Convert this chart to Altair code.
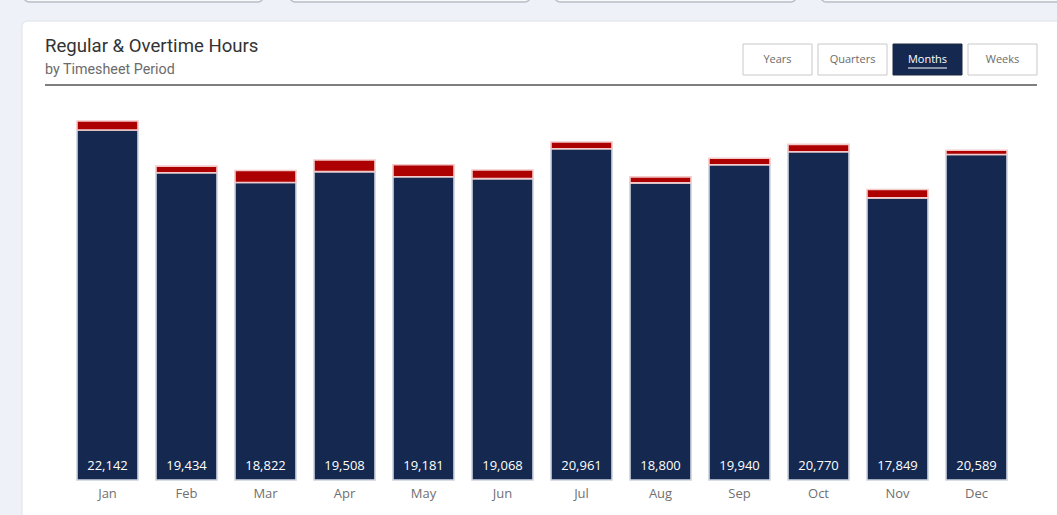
import altair as alt
import pandas as pd

# ---- data ----
months = ["Jan", "Feb", "Mar", "Apr", "May", "Jun", "Jul", "Aug", "Sep", "Oct", "Nov", "Dec"]
regular = [22142, 19434, 18822, 19508, 19181, 19068, 20961, 18800, 19940, 20770, 17849, 20589]
overtime = [570, 420, 760, 735, 760, 545, 420, 380, 420, 460, 525, 270]
types = ["Regular", "Overtime"]
buttons = ["Years", "Quarters", "Months", "Weeks"]

rows = []
for m, r, o in zip(months, regular, overtime):
    rows.append({"Month": m, "Type": "Regular", "Hours": r, "Order": 0})
    rows.append({"Month": m, "Type": "Overtime", "Hours": o, "Order": 1})
df = pd.DataFrame(rows)
lab = pd.DataFrame({"Month": months, "Regular": regular, "Base": [0] * len(months)})
lab["Label"] = [f"{v:,}" for v in regular]
one = pd.DataFrame({"k": [0]})

NAVY = "#142850"
RED = "#ad0000"
FONT = "Open Sans"

x_scale = alt.Scale(domain=months, range=[68, 1016], paddingInner=0.228, paddingOuter=0.114)
y_scale = alt.Scale(domain=[0, 30000], range=[480, 5.8], nice=False)

layers = []

# card
layers.append(alt.Chart(one).mark_rect(fill="white", stroke="#dde2ea", strokeWidth=1, cornerRadius=6).encode(
    x=alt.value(22), x2=alt.value(1090), y=alt.value(21), y2=alt.value(560)))
# top strip cards
for x0, x1 in [(24, 263), (290, 530), (555, 796), (821, 1100)]:
    layers.append(alt.Chart(one).mark_rect(fill="#f7f8fa", stroke="#b9bec6", strokeWidth=1.5, cornerRadius=5).encode(
        x=alt.value(x0), x2=alt.value(x1), y=alt.value(-20), y2=alt.value(2)))

# title & subtitle
layers.append(alt.Chart(one).mark_text(text="Regular & Overtime Hours", align="left", baseline="middle",
                                       font="Roboto", fontSize=18.6, color="#333333").encode(
    x=alt.value(45), y=alt.value(46)))
layers.append(alt.Chart(one).mark_text(text="by Timesheet Period", align="left", baseline="middle",
                                       font="Roboto", fontSize=14.3, color="#6b6b6b").encode(
    x=alt.value(45), y=alt.value(70)))
layers.append(alt.Chart(one).mark_rule(color="#7f7f7f", strokeWidth=2).encode(
    x=alt.value(45), x2=alt.value(1037), y=alt.value(85)))

# buttons
bx = [743, 818, 893, 968]
for name, x0 in zip(buttons, bx):
    active = name == "Months"
    layers.append(alt.Chart(one).mark_rect(fill=NAVY if active else "white",
                                           stroke="#1d2a3f" if active else "#c9c9c9", strokeWidth=1).encode(
        x=alt.value(x0), x2=alt.value(x0 + 69), y=alt.value(44), y2=alt.value(75)))
    layers.append(alt.Chart(one).mark_text(text=name, align="center", baseline="middle", font=FONT,
                                           fontSize=11, color="white" if active else "#6b6b6b").encode(
        x=alt.value(x0 + 34.5), y=alt.value(60)))
    if active:
        layers.append(alt.Chart(one).mark_rule(color="white", strokeWidth=1).encode(
            x=alt.value(x0 + 15), x2=alt.value(x0 + 54), y=alt.value(68)))

# bars
bars = alt.Chart(df).mark_bar(strokeWidth=1.6).encode(
    x=alt.X("Month:N", scale=x_scale, axis=None, sort=None),
    y=alt.Y("Hours:Q", scale=y_scale, axis=None, stack="zero"),
    color=alt.Color("Type:N", scale=alt.Scale(domain=types, range=[NAVY, RED]), legend=None),
    stroke=alt.Stroke("Type:N", scale=alt.Scale(domain=types, range=["#cdd3de", "#f3c9c9"]), legend=None),
    order=alt.Order("Order:Q"),
)
layers.append(bars)

values = alt.Chart(lab).mark_text(baseline="middle", align="center", font=FONT, fontSize=13,
                                  fontWeight="normal", color="white", dy=-14).encode(
    x=alt.X("Month:N", scale=x_scale, axis=None, sort=None),
    y=alt.Y("Base:Q", scale=y_scale, axis=None),
    text="Label:N",
)
layers.append(values)

mlabels = alt.Chart(lab).mark_text(baseline="middle", align="center", font=FONT, fontSize=13,
                                   color="#707070", dy=14).encode(
    x=alt.X("Month:N", scale=x_scale, axis=None, sort=None),
    y=alt.Y("Base:Q", scale=y_scale, axis=None),
    text="Month:N",
)
layers.append(mlabels)

chart = alt.layer(*layers).properties(
    width=1057, height=515, padding=0, autosize=alt.AutoSizeParams(type="none"),
    background="#eef2f8",
).configure_view(stroke=None)

chart.save("out.html", embed_options={"renderer": "svg", "actions": False})
